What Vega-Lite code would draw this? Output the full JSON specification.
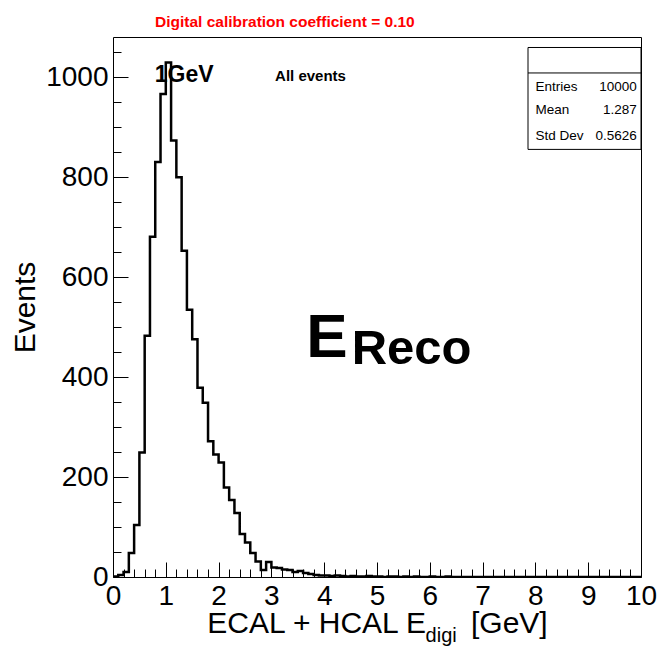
{
  "$schema": "https://vega.github.io/schema/vega-lite/v6.json",
  "width": 528,
  "height": 540,
  "autosize": {"type": "none"},
  "padding": {"left": 113, "top": 37, "right": 29, "bottom": 69},
  "background": "white",
  "config": {
    "view": {"stroke": "#000", "strokeWidth": 1},
    "font": "Liberation Sans",
    "text": {"font": "Liberation Sans"}
  },
  "title": {
    "text": "Digital calibration coefficient = 0.10",
    "color": "#ff0000",
    "fontSize": 15.5,
    "fontWeight": "bold",
    "font": "Liberation Sans",
    "anchor": "start",
    "frame": "group",
    "dx": 42,
    "offset": -5,
    "baseline": "alphabetic"
  },
  "data": {"values": [
    {"e":0,"n":1},{"e":0.1,"n":4},{"e":0.2,"n":10},{"e":0.3,"n":48},{"e":0.4,"n":104},
    {"e":0.5,"n":249},{"e":0.6,"n":483},{"e":0.7,"n":681},{"e":0.8,"n":831},{"e":0.9,"n":967},
    {"e":1.0,"n":1030},{"e":1.1,"n":874},{"e":1.2,"n":800},{"e":1.3,"n":653},{"e":1.4,"n":535},
    {"e":1.5,"n":476},{"e":1.6,"n":379},{"e":1.7,"n":349},{"e":1.8,"n":272},{"e":1.9,"n":245},
    {"e":2.0,"n":229},{"e":2.1,"n":179},{"e":2.2,"n":154},{"e":2.3,"n":128},{"e":2.4,"n":86},
    {"e":2.5,"n":69},{"e":2.6,"n":48},{"e":2.7,"n":31},{"e":2.8,"n":14},{"e":2.9,"n":30},
    {"e":3.0,"n":19},{"e":3.1,"n":18},{"e":3.2,"n":15},{"e":3.3,"n":14},{"e":3.4,"n":10},
    {"e":3.5,"n":12},{"e":3.6,"n":8},{"e":3.7,"n":6},{"e":3.8,"n":4},{"e":3.9,"n":3},
    {"e":4.0,"n":3},{"e":4.1,"n":2},{"e":4.2,"n":3},{"e":4.3,"n":2},{"e":4.4,"n":1},
    {"e":4.5,"n":2},{"e":4.6,"n":1},{"e":4.7,"n":1},{"e":4.8,"n":2},{"e":4.9,"n":1},
    {"e":5.0,"n":1},{"e":5.1,"n":0},{"e":5.2,"n":1},{"e":5.3,"n":1},{"e":5.4,"n":0},
    {"e":5.5,"n":1},{"e":5.6,"n":0},{"e":5.7,"n":1},{"e":5.8,"n":0},{"e":5.9,"n":0},
    {"e":6.0,"n":1},{"e":6.1,"n":0},{"e":6.2,"n":0},{"e":6.3,"n":1},{"e":6.4,"n":0},
    {"e":6.5,"n":0},{"e":6.6,"n":0},{"e":6.7,"n":0},{"e":6.8,"n":0},{"e":6.9,"n":0},
    {"e":7.0,"n":0},{"e":7.1,"n":0},{"e":7.2,"n":0},{"e":7.3,"n":0},{"e":7.4,"n":0},
    {"e":7.5,"n":0},{"e":7.6,"n":0},{"e":7.7,"n":0},{"e":7.8,"n":0},{"e":7.9,"n":0},
    {"e":8.0,"n":0},{"e":8.1,"n":0},{"e":8.2,"n":0},{"e":8.3,"n":0},{"e":8.4,"n":0},
    {"e":8.5,"n":0},{"e":8.6,"n":0},{"e":8.7,"n":0},{"e":8.8,"n":0},{"e":8.9,"n":0},
    {"e":9.0,"n":0},{"e":9.1,"n":0},{"e":9.2,"n":0},{"e":9.3,"n":0},{"e":9.4,"n":0},
    {"e":9.5,"n":0},{"e":9.6,"n":0},{"e":9.7,"n":0},{"e":9.8,"n":0},{"e":9.9,"n":0},
    {"e":10.0,"n":0}
  ]},
  "resolve": {"axis": {"x": "independent", "y": "independent"}},
  "layer": [
    {
      "mark": {"type": "line", "interpolate": "step-after", "color": "#000", "strokeWidth": 2.5, "clip": true},
      "encoding": {
        "x": {
          "field": "e", "type": "quantitative",
          "scale": {"domain": [0, 10], "nice": false, "zero": false},
          "axis": {
            "orient": "bottom",
            "values": [0,1,2,3,4,5,6,7,8,9,10],
            "format": "d",
            "tickSize": -15,
            "labelOverlap": false,
            "labelFlush": false,
            "labelFont": "Liberation Sans",
            "labelFontSize": 28,
            "labelColor": "#000",
            "labelPadding": 20,
            "tickColor": "#000",
            "tickWidth": 1,
            "domain": false,
            "grid": false,
            "title": "ECAL + HCAL E\u2002\u2002\u2002[GeV]",
            "titleFont": "Liberation Sans",
            "titleFontSize": 30,
            "titleFontWeight": "normal",
            "titleColor": "#000",
            "titlePadding": -2
          }
        },
        "y": {
          "field": "n", "type": "quantitative",
          "scale": {"domain": [0, 1081], "nice": false},
          "axis": {
            "orient": "left",
            "values": [0,200,400,600,800,1000],
            "format": "d",
            "tickSize": -15,
            "labelOverlap": false,
            "labelFlush": false,
            "labelFont": "Liberation Sans",
            "labelFontSize": 28,
            "labelColor": "#000",
            "labelPadding": 20,
            "tickColor": "#000",
            "tickWidth": 1,
            "domain": false,
            "grid": false,
            "title": "Events",
            "titleFont": "Liberation Sans",
            "titleFontSize": 30,
            "titleFontWeight": "normal",
            "titleColor": "#000",
            "titlePadding": 5
          }
        }
      }
    },
    {
      "mark": {"type": "point", "opacity": 0},
      "encoding": {
        "x": {
          "field": "e", "type": "quantitative",
          "axis": {
            "orient": "bottom",
            "values": [0.2,0.4,0.6,0.8,1.2,1.4,1.6,1.8,2.2,2.4,2.6,2.8,3.2,3.4,3.6,3.8,4.2,4.4,4.6,4.8,5.2,5.4,5.6,5.8,6.2,6.4,6.6,6.8,7.2,7.4,7.6,7.8,8.2,8.4,8.6,8.8,9.2,9.4,9.6,9.8],
            "tickSize": -8,
            "labels": false,
            "tickColor": "#000",
            "tickWidth": 1,
            "domain": false,
            "grid": false,
            "title": null
          }
        },
        "y": {
          "field": "n", "type": "quantitative",
          "axis": {
            "orient": "left",
            "values": [50,100,150,250,300,350,450,500,550,650,700,750,850,900,950,1050],
            "tickSize": -8,
            "labels": false,
            "tickColor": "#000",
            "tickWidth": 1,
            "domain": false,
            "grid": false,
            "title": null
          }
        }
      }
    },
    {
      "data": {"values": [{}]},
      "mark": {"type": "text", "text": "digi", "fontSize": 20, "align": "left", "baseline": "alphabetic", "color": "#000"},
      "encoding": {"x": {"datum": 5.92, "type": "quantitative", "axis": null}, "y": {"datum": -131, "type": "quantitative", "axis": null}}
    },
    {
      "data": {"values": [{}]},
      "mark": {"type": "text", "text": "1GeV", "fontSize": 23, "fontWeight": "bold", "align": "left", "baseline": "alphabetic", "color": "#000"},
      "encoding": {"x": {"datum": 0.79, "type": "quantitative", "axis": null}, "y": {"datum": 990, "type": "quantitative", "axis": null}}
    },
    {
      "data": {"values": [{}]},
      "mark": {"type": "text", "text": "All events", "fontSize": 15, "fontWeight": "bold", "align": "left", "baseline": "alphabetic", "color": "#000"},
      "encoding": {"x": {"datum": 3.07, "type": "quantitative", "axis": null}, "y": {"datum": 992, "type": "quantitative", "axis": null}}
    },
    {
      "data": {"values": [{}]},
      "mark": {"type": "text", "text": "E", "fontSize": 62, "fontWeight": "bold", "align": "left", "baseline": "alphabetic", "color": "#000"},
      "encoding": {"x": {"datum": 3.66, "type": "quantitative", "axis": null}, "y": {"datum": 440, "type": "quantitative", "axis": null}}
    },
    {
      "data": {"values": [{}]},
      "mark": {"type": "text", "text": "Reco", "fontSize": 49, "fontWeight": "bold", "align": "left", "baseline": "alphabetic", "color": "#000"},
      "encoding": {"x": {"datum": 4.52, "type": "quantitative", "axis": null}, "y": {"datum": 426, "type": "quantitative", "axis": null}}
    },
    {
      "data": {"values": [{}]},
      "mark": {"type": "rect", "fill": "white", "stroke": "#000", "strokeWidth": 1},
      "encoding": {
        "x": {"datum": 7.86, "type": "quantitative", "axis": null}, "x2": {"datum": 10},
        "y": {"datum": 856, "type": "quantitative", "axis": null}, "y2": {"datum": 1060}
      }
    },
    {
      "data": {"values": [{}]},
      "mark": {"type": "rule", "stroke": "#000", "strokeWidth": 1},
      "encoding": {
        "x": {"datum": 7.86, "type": "quantitative", "axis": null}, "x2": {"datum": 10},
        "y": {"datum": 1009, "type": "quantitative", "axis": null}
      }
    },
    {
      "data": {"values": [{}]},
      "mark": {"type": "text", "text": "Entries", "fontSize": 13.5, "align": "left", "baseline": "alphabetic", "color": "#000"},
      "encoding": {"x": {"datum": 8.0, "type": "quantitative", "axis": null}, "y": {"datum": 972, "type": "quantitative", "axis": null}}
    },
    {
      "data": {"values": [{}]},
      "mark": {"type": "text", "text": "10000", "fontSize": 13.5, "align": "right", "baseline": "alphabetic", "color": "#000"},
      "encoding": {"x": {"datum": 9.92, "type": "quantitative", "axis": null}, "y": {"datum": 972, "type": "quantitative", "axis": null}}
    },
    {
      "data": {"values": [{}]},
      "mark": {"type": "text", "text": "Mean", "fontSize": 13.5, "align": "left", "baseline": "alphabetic", "color": "#000"},
      "encoding": {"x": {"datum": 8.0, "type": "quantitative", "axis": null}, "y": {"datum": 926, "type": "quantitative", "axis": null}}
    },
    {
      "data": {"values": [{}]},
      "mark": {"type": "text", "text": "1.287", "fontSize": 13.5, "align": "right", "baseline": "alphabetic", "color": "#000"},
      "encoding": {"x": {"datum": 9.92, "type": "quantitative", "axis": null}, "y": {"datum": 926, "type": "quantitative", "axis": null}}
    },
    {
      "data": {"values": [{}]},
      "mark": {"type": "text", "text": "Std Dev", "fontSize": 13.5, "align": "left", "baseline": "alphabetic", "color": "#000"},
      "encoding": {"x": {"datum": 8.0, "type": "quantitative", "axis": null}, "y": {"datum": 874, "type": "quantitative", "axis": null}}
    },
    {
      "data": {"values": [{}]},
      "mark": {"type": "text", "text": "0.5626", "fontSize": 13.5, "align": "right", "baseline": "alphabetic", "color": "#000"},
      "encoding": {"x": {"datum": 9.92, "type": "quantitative", "axis": null}, "y": {"datum": 874, "type": "quantitative", "axis": null}}
    }
  ]
}
